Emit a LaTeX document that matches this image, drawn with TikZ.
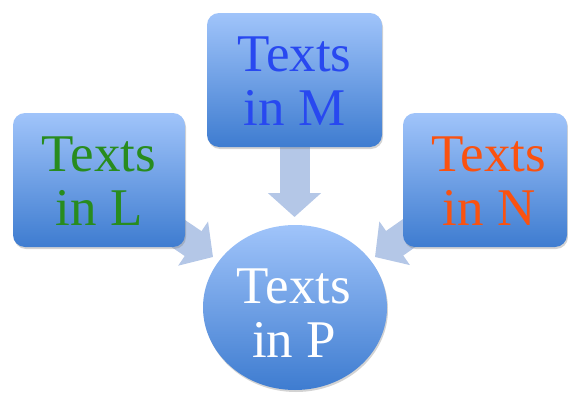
\documentclass[tikz,border=0pt]{standalone}
\usepackage{fontspec}
\setmainfont{Liberation Serif}
\usetikzlibrary{arrows.meta,shapes.geometric,shadows,backgrounds}
\definecolor{boxtop}{RGB}{160,196,250}
\definecolor{boxbot}{RGB}{62,124,208}
\definecolor{arrowc}{RGB}{180,199,231}
\definecolor{txtL}{RGB}{40,140,30}
\definecolor{txtM}{RGB}{40,72,240}
\definecolor{txtN}{RGB}{250,82,16}
\tikzset{
  boxshape/.style={rectangle, rounded corners=12pt, top color=boxtop, bottom color=boxbot,
    draw=none, inner sep=0pt, minimum height=134pt,
    drop shadow={opacity=0.35, shadow xshift=1pt, shadow yshift=-2pt}},
  circshape/.style={ellipse, top color=boxtop, bottom color=boxbot, draw=none, inner sep=0pt,
    minimum width=184pt, minimum height=165pt,
    drop shadow={opacity=0.35, shadow xshift=1pt, shadow yshift=-2pt}},
  bigtxt/.style={align=center, inner sep=0pt, font=\fontsize{53}{54}\selectfont},
  conn/.style={line width=30pt, draw=arrowc, -{Triangle[width=52pt,length=24pt,fill=arrowc]}}
}
\begin{document}
\begin{tikzpicture}[x=1pt,y=-1pt]
\useasboundingbox (0,0) rectangle (568,399);
% boxes and circle
\node[boxshape, minimum width=172pt] (L) at (99,180) {};
\node[boxshape, minimum width=175pt] (M) at (294.5,80) {};
\node[boxshape, minimum width=164pt] (N) at (485,180) {};
\node[circshape] (P) at (295,307.5) {};
% arrow tips on the circle
\coordinate (tL) at (213,257);
\coordinate (tM) at (294.5,217);
\coordinate (tN) at (375,257);
% connectors behind everything
\begin{scope}[on background layer]
\draw[conn] (L.center) -- (tL);
\draw[conn] (M.center) -- (tM);
\draw[conn] (N.center) -- (tN);
\end{scope}
% texts
\node[bigtxt, text=txtL] (Lt) at (99,181) {Texts\\in L};
\node[bigtxt, text=txtM] (Mt) at (294.5,81) {Texts\\in M};
\node[bigtxt, text=txtN] (Nt) at (489,181) {Texts\\in N};
\node[bigtxt, text=white] (Pt) at (294,313.5) {Texts\\in P};
\end{tikzpicture}
\end{document}
